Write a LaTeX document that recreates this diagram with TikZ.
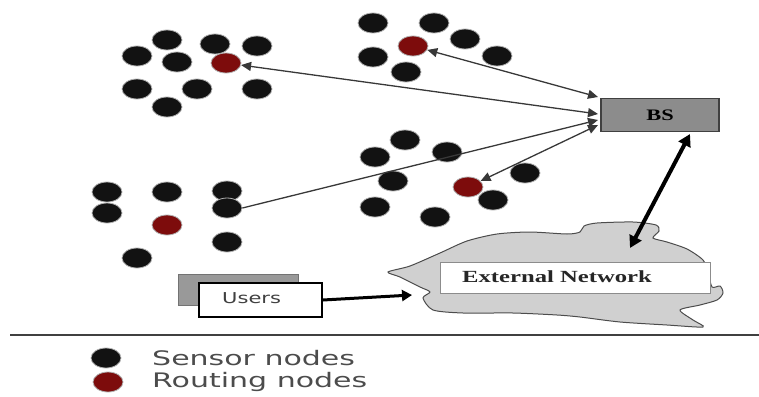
\documentclass[tikz,border=0pt]{standalone}
\usepackage{fontspec}
\usepackage{graphicx}
\setmainfont{Liberation Serif}
\newfontfamily\legendfont{DejaVu Sans}
\usetikzlibrary{shapes.geometric,arrows.meta}
\definecolor{routred}{RGB}{125,12,12}
\definecolor{cloudgray}{RGB}{208,208,208}
\definecolor{bsgray}{RGB}{140,140,140}
\begin{document}
\begin{tikzpicture}[x=1pt,y=-1pt,
  sensor/.style={ellipse,fill=black!93,draw=gray!60,line width=0.8pt,minimum width=30pt,minimum height=20pt,inner sep=0pt},
  router/.style={sensor,fill=routred},
  link/.style={draw=black!78,line width=1.3pt,{Triangle[length=10pt,width=9pt]}-{Triangle[length=10pt,width=9pt]}},
  onelink/.style={draw=black!78,line width=1.3pt,-{Triangle[length=10pt,width=9pt]}},
  thicklink/.style={draw=black,line width=4pt,{Triangle[length=12pt,width=13pt]}-{Triangle[length=12pt,width=13pt]}},
  userlink/.style={draw=black,line width=3pt,-{Triangle[length=10pt,width=11pt]}},
  legendtext/.style={text=black!70,anchor=west,inner sep=0pt}
]
\useasboundingbox (0,0) rectangle (759,396);

% cluster 1 (top left)
\node[sensor] (a1) at (167,40) {};
\node[sensor] (a2) at (215,44) {};
\node[sensor] (a3) at (257,46) {};
\node[sensor] (a4) at (137,56) {};
\node[sensor] (a5) at (177,62) {};
\node[router] (r1) at (226,63) {};
\node[sensor] (a6) at (137,89) {};
\node[sensor] (a7) at (197,89) {};
\node[sensor] (a8) at (257,89) {};
\node[sensor] (a9) at (167,107) {};

% cluster 2 (top middle)
\node[sensor] (b1) at (373,23) {};
\node[sensor] (b2) at (434,23) {};
\node[router] (r2) at (413,46) {};
\node[sensor] (b3) at (465,39) {};
\node[sensor] (b4) at (373,57) {};
\node[sensor] (b5) at (497,56) {};
\node[sensor] (b6) at (406,72) {};

% cluster 3 (middle)
\node[sensor] (c1) at (405,140) {};
\node[sensor] (c2) at (375,157) {};
\node[sensor] (c3) at (447,152) {};
\node[sensor] (c4) at (393,181) {};
\node[router] (r3) at (468,187) {};
\node[sensor] (c5) at (525,173) {};
\node[sensor] (c6) at (493,200) {};
\node[sensor] (c7) at (375,207) {};
\node[sensor] (c8) at (435,217) {};

% cluster 4 (bottom left)
\node[sensor] (d1) at (107,192) {};
\node[sensor] (d2) at (167,192) {};
\node[sensor] (d3) at (227,191) {};
\node[sensor] (d4) at (107,213) {};
\node[sensor] (d5) at (227,208) {};
\node[router] (r4) at (167,225) {};
\node[sensor] (d6) at (227,242) {};
\node[sensor] (d7) at (137,258) {};

% base station
\node[draw=black!75,line width=1.8pt,fill=bsgray,minimum width=118pt,minimum height=33pt,inner sep=0pt] (bs) at (660,115) {\scalebox{1.4}[1]{\fontsize{16}{16}\selectfont\bfseries BS}};
\coordinate (bsA) at (598,97);
\coordinate (bsB) at (598,114);
\coordinate (bsC) at (598,120);
\coordinate (bsD) at (598,125);
\coordinate (bsE) at (690,134);

\draw[link] (r1) -- (bsB);
\draw[link] (r2) -- (bsA);
\draw[onelink] (d5.east) -- (bsC);
\draw[link] (r3) -- (bsD);

% cloud
\draw[draw=black!70,line width=1pt,fill=cloudgray] plot[smooth cycle,tension=0.45] coordinates {
 (388,272) (410,266) (440,253) (467,241) (497,234) (530,232) (567,234) (580,232) (584,226) (597,223)
 (633,222) (656,225) (659,231) (653,238) (667,242) (687,249) (703,260) (708,272) (712,287) (720,286)
 (723,293) (717,300) (700,305) (680,310) (693,320) (703,327) (667,325) (620,322) (580,317) (557,315)
 (513,313) (463,313) (433,310) (423,298) (430,292) (420,287) (400,277)};
\node[draw=black!45,line width=0.6pt,fill=white,minimum width=270pt,minimum height=31pt,inner sep=0pt] (ext) at (575,277.5) {};
\node[anchor=west,inner sep=0pt,text=black!85] (exttext) at (462,277) {\scalebox{1.45}[1]{\fontsize{17}{17}\selectfont\bfseries External Network}};
\coordinate (cloudtop) at (630,248);
\coordinate (cloudleft) at (412,295);

\draw[thicklink] (bsE) -- (cloudtop);

% users
\node[draw=black!55,line width=1pt,fill=black!40,minimum width=120pt,minimum height=31pt,inner sep=0pt] (ushadow) at (238,289.5) {};
\node[draw=black,line width=1.8pt,fill=white,minimum width=123pt,minimum height=34pt,inner sep=0pt] (users) at (260.5,300) {};
\node[anchor=west,inner sep=0pt] (userstext) at (222,298) {\scalebox{1.4}[1]{\legendfont\fontsize{15}{15}\selectfont\color{black!75}Users}};
\draw[userlink] (users.east) -- (cloudleft);

% separator line
\coordinate (lineL) at (10,335);
\coordinate (lineR) at (759,335);
\draw[black!75,line width=1.6pt] (lineL) -- (lineR);

% legend
\node[sensor] (ls) at (106,358) {};
\node[router] (lr) at (108,382) {};
\node[legendtext] (lst) at (152,358) {\scalebox{1.5}[1]{\legendfont\fontsize{20}{20}\selectfont Sensor nodes}};
\node[legendtext] (lrt) at (152,382) {\scalebox{1.5}[1]{\legendfont\fontsize{20}{20}\selectfont Routing nodes}};
\end{tikzpicture}
\end{document}
